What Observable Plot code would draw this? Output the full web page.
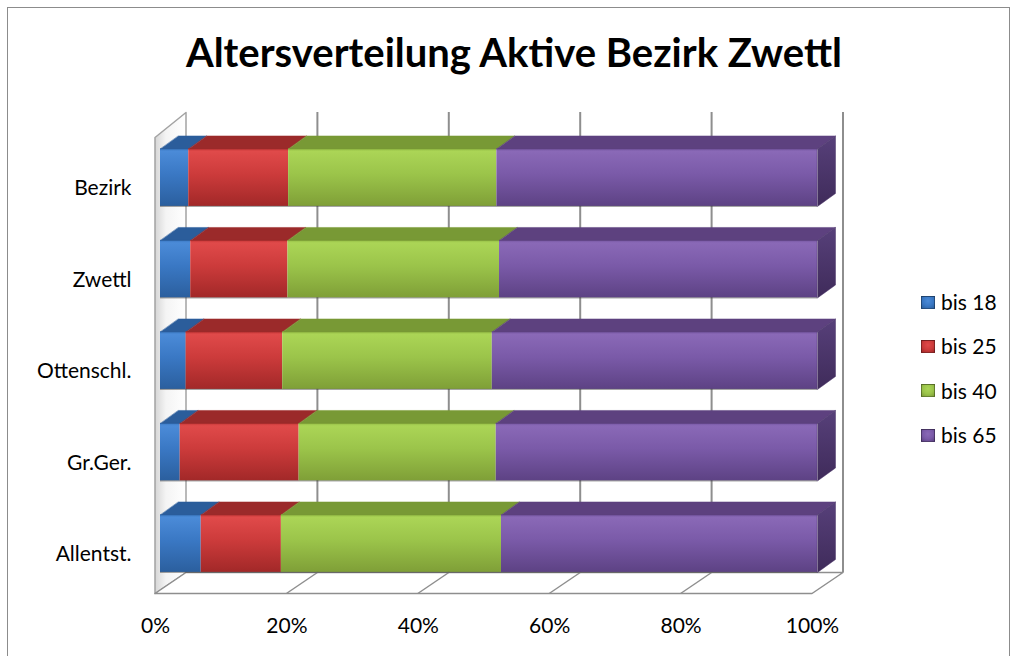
<!DOCTYPE html>
<html><head><meta charset="utf-8">
<script src="https://cdn.jsdelivr.net/npm/d3@7"></script>
<script src="https://cdn.jsdelivr.net/npm/@observablehq/plot@0.6"></script>
<style>
body{margin:0;background:#fff;font-family:Lato,"Open Sans",sans-serif;}
#wrap{position:relative;width:1014px;height:656px;overflow:hidden;background:#fff}
#frame{position:absolute;left:7px;top:7px;width:1003px;height:700px;border:1.5px solid #8c8c8c;box-sizing:border-box}
#title{position:absolute;left:0;width:1028px;top:32px;text-align:center;font-weight:bold;font-size:40px;line-height:40px;color:#000}
#chart{position:absolute;left:0;top:90px}
#legend{position:absolute;left:921px;top:280px;font-size:21px;color:#000}
.item{height:44.3px;line-height:44.3px;display:flex;align-items:center}
.sw{width:14px;height:13px;margin-right:6px;box-sizing:border-box;border:1px solid rgba(0,0,0,0.35)}
</style></head>
<body>
<div id="wrap">
  <div id="frame"></div>
  <div id="title">Altersverteilung Aktive Bezirk Zwettl</div>
  <div id="chart"></div>
  <div id="legend"></div>
</div>
<script>
// ---- data ----
const categories = ["Bezirk", "Zwettl", "Ottenschl.", "Gr.Ger.", "Allentst."];
const seriesNames = ["bis 18", "bis 25", "bis 40", "bis 65"];
const bis18 = [4.3, 4.6, 3.9, 3.0, 6.2];
const bis25 = [15.2, 14.8, 14.7, 18.1, 12.2];
const bis40 = [31.7, 32.2, 31.9, 30.0, 33.5];
const bis65 = [48.8, 48.4, 49.5, 48.9, 48.1];
const xTicks = [0, 20, 40, 60, 80, 100];

// ---- styles ----
const frontStops = [
  ["#3a78c2", "#4b8bd8", "#3a78c4", "#2b5f9e"],
  ["#c43535", "#e04a4a", "#cc3b3b", "#a22828"],
  ["#92bb44", "#abd556", "#9bc44a", "#7f9f37"],
  ["#7455a0", "#8a69b7", "#7a5aa8", "#5d4284"]
];
const topColors = ["#2b5d9b", "#9b2a2a", "#789935", "#5d417f"];
const endColor = "#4a3468";
const gridColor = "#8e8e8e";

// ---- geometry (pixels -> data units) ----
const W = 1014, H = 566;
const X0 = 160, X1 = 817;          // front plane of bars
const YC0 = 87.2, STEP = 91.5;     // center of first bar, step between bars
const kx = (X1 - X0) / 100;
const ux = p => p / kx;
const uy = p => p / STEP;
const yv = p => (p - YC0) / STEP;
const HH = uy(28.75), DX = ux(18), DY = uy(13);
const FX = ux(-5.5), BX = ux(25.5);   // box front / back planes
const backTop = yv(22), backBot = yv(482), frontTop = yv(47), frontBot = yv(503);

const values = [bis18, bis25, bis40, bis65];
const segments = [];
categories.forEach((c, i) => {
  const total = d3.sum(values, arr => arr[i]);
  let acc = 0;
  values.forEach((arr, k) => {
    const x1 = acc / total * 100;
    acc += arr[i];
    segments.push({cat: c, i, k, x1, x2: acc / total * 100});
  });
});

const wall = [
  {x: FX, y: frontTop}, {x: BX, y: backTop}, {x: BX, y: backBot}, {x: FX, y: frontBot}
];
const floor = [
  {x: FX, y: frontBot}, {x: 100 + FX, y: frontBot}, {x: 100 + BX, y: backBot}, {x: BX, y: backBot}
];

const marks = [
  Plot.line(wall, {x: "x", y: "y", curve: "linear-closed", fill: "url(#wallg)", stroke: "#a3a3a3", strokeWidth: 1.5}),
  Plot.line(floor, {x: "x", y: "y", curve: "linear-closed", fill: "#fff", stroke: gridColor, strokeWidth: 1.5}),
  Plot.link(xTicks.slice(1, -1), {x1: v => v + FX, y1: frontBot, x2: v => v + BX, y2: backBot, stroke: gridColor, strokeWidth: 1.5}),
  Plot.ruleX(xTicks.slice(1), {x: v => v + BX, y1: backTop, y2: backBot, stroke: gridColor, strokeWidth: 2})
];

seriesNames.forEach((s, k) => {
  const segs = segments.filter(d => d.k === k);
  marks.push(Plot.rect(segs, {x1: "x1", x2: "x2", y1: d => d.i - HH, y2: d => d.i + HH, fill: `url(#g${k})`}));
  const tops = segs.flatMap(d => [
    {id: d.i, x: d.x1, y: d.i - HH}, {id: d.i, x: d.x2, y: d.i - HH},
    {id: d.i, x: d.x2 + DX, y: d.i - HH - DY}, {id: d.i, x: d.x1 + DX, y: d.i - HH - DY}
  ]);
  marks.push(Plot.line(tops, {x: "x", y: "y", z: "id", curve: "linear-closed", fill: topColors[k], stroke: topColors[k], strokeWidth: 0.5}));
  if (k === seriesNames.length - 1) {
    const ends = segs.flatMap(d => [
      {id: d.i, x: d.x2, y: d.i - HH}, {id: d.i, x: d.x2 + DX, y: d.i - HH - DY},
      {id: d.i, x: d.x2 + DX, y: d.i + HH - DY}, {id: d.i, x: d.x2, y: d.i + HH}
    ]);
    marks.push(Plot.line(ends, {x: "x", y: "y", z: "id", curve: "linear-closed", fill: "url(#endg)", stroke: endColor, strokeWidth: 0.5}));
  }
});
// subtle dark bottom edge under each bar
marks.push(Plot.ruleY(d3.range(categories.length), {y: i => i + HH, x1: 0, x2: 100, stroke: "#3a3a3a", strokeOpacity: 0.45, strokeWidth: 1.2}));

marks.push(Plot.axisY(d3.range(categories.length), {
  tickFormat: i => categories[i], tickSize: 0, tickPadding: 29, dy: 11, fontSize: 21, label: null
}));
marks.push(Plot.axisX(xTicks, {
  tickFormat: d => d + "%", tickSize: 0, tickPadding: 25, dx: -5, fontSize: 21, label: null
}));

const svg = Plot.plot({
  width: W, height: H,
  marginLeft: X0, marginRight: W - X1, marginTop: 22, marginBottom: H - 503,
  x: {domain: [0, 100], range: [X0, X1]},
  y: {domain: [0, categories.length - 1], range: [YC0, YC0 + STEP * (categories.length - 1)]},
  style: {fontFamily: "Lato, 'Open Sans', sans-serif", fontSize: "21px", color: "#000", background: "transparent"},
  marks
});

// gradients
const defs = d3.select(svg).insert("defs", ":first-child");
frontStops.forEach((st, k) => {
  const g = defs.append("linearGradient").attr("id", `g${k}`).attr("x1", 0).attr("y1", 0).attr("x2", 0).attr("y2", 1);
  [[0, st[0]], [0.05, st[1]], [0.45, st[2]], [1, st[3]]].forEach(([o, c]) =>
    g.append("stop").attr("offset", o).attr("stop-color", c));
});
{
  const g = defs.append("linearGradient").attr("id", "endg").attr("x1", 0).attr("y1", 0).attr("x2", 0).attr("y2", 1);
  g.append("stop").attr("offset", 0).attr("stop-color", "#57407a");
  g.append("stop").attr("offset", 1).attr("stop-color", "#3f2b5a");
  const w = defs.append("linearGradient").attr("id", "wallg").attr("x1", 0).attr("y1", 0).attr("x2", 1).attr("y2", 0);
  w.append("stop").attr("offset", 0).attr("stop-color", "#d6d6d6");
  w.append("stop").attr("offset", 0.35).attr("stop-color", "#f4f4f4");
  w.append("stop").attr("offset", 1).attr("stop-color", "#ffffff");
}
document.getElementById("chart").appendChild(svg);

// legend
const legend = d3.select("#legend");
seriesNames.forEach((s, k) => {
  const it = legend.append("div").attr("class", "item");
  it.append("div").attr("class", "sw")
    .style("background", `radial-gradient(circle at 50% 35%, ${frontStops[k][1]} 0%, ${frontStops[k][2]} 55%, ${frontStops[k][3]} 100%)`);
  it.append("span").text(s);
});
</script>
</body></html>
